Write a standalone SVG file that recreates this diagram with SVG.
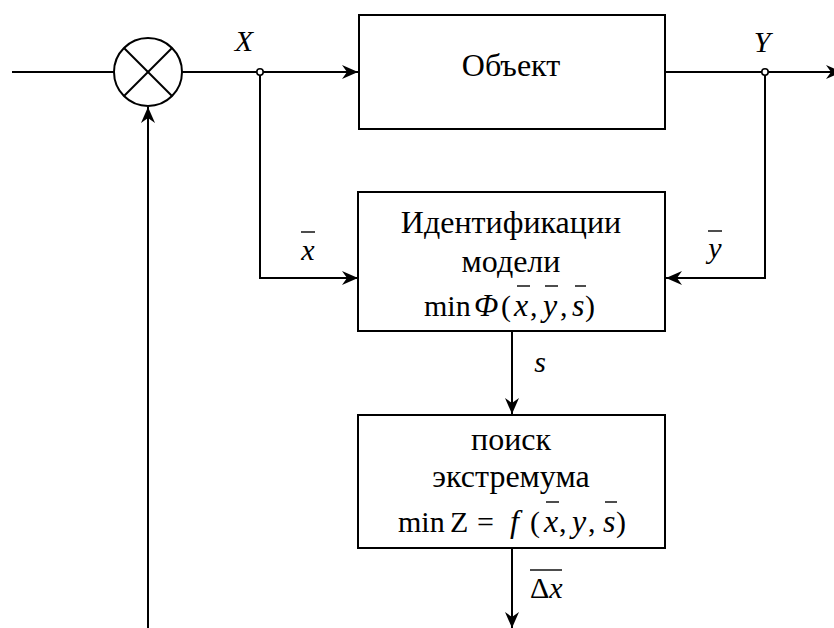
<svg xmlns="http://www.w3.org/2000/svg" width="834" height="628" viewBox="0 0 834 628" font-family="'Liberation Serif', 'DejaVu Serif', serif">
  <style>
    .ln { fill: none; stroke: #000; stroke-width: 2; }
    .box { fill: #fff; stroke: #000; stroke-width: 2; }
    .dot { fill: #fff; stroke: #000; stroke-width: 1.6; }
    .bar { stroke: #000; stroke-width: 1.4; }
    .t { font-family: 'Liberation Serif', 'DejaVu Serif', serif; font-size: 32px; fill: #000; }
    .f { font-family: 'Liberation Serif', 'DejaVu Serif', serif; font-size: 30px; fill: #000; }
    .c { text-anchor: middle; }
    .i { font-style: italic; }
    .v { font-style: italic; font-size: 32px; }
  </style>
  <defs>
    <marker id="arr" viewBox="-18 -8 20 16" markerWidth="20" markerHeight="16" refX="0" refY="0" orient="auto" markerUnits="userSpaceOnUse">
      <path d="M0,0 L-16,-7 L-11,0 L-16,7 Z" fill="#000"/>
    </marker>
  </defs>

  <!-- connectors -->
  <g id="connectors">
    <line class="ln" x1="12" y1="72" x2="114" y2="72"/>
    <line class="ln" x1="182" y1="72" x2="358" y2="72" marker-end="url(#arr)"/>
    <line class="ln" x1="665" y1="72" x2="842" y2="72" marker-end="url(#arr)"/>
    <polyline class="ln" points="260,72 260,278 358,278" marker-end="url(#arr)"/>
    <polyline class="ln" points="765,72 765,278 666,278" marker-end="url(#arr)"/>
    <line class="ln" x1="512" y1="331" x2="512" y2="414" marker-end="url(#arr)"/>
    <line class="ln" x1="512" y1="548" x2="512" y2="628" marker-end="url(#arr)"/>
    <line class="ln" x1="148" y1="628" x2="148" y2="107" marker-end="url(#arr)"/>
    <circle class="dot" cx="260" cy="72" r="3.2"/>
    <circle class="dot" cx="765" cy="72" r="3.2"/>
    <!-- signal labels -->
    <text class="f i c" x="244" y="51">X</text>
    <text class="f i c" x="762" y="52">Y</text>
    <text class="f i c" x="308" y="260">x</text>
    <line class="bar" x1="301" y1="232" x2="315" y2="232"/>
    <text class="f i c" x="715" y="258">y</text>
    <line class="bar" x1="708" y1="231" x2="722" y2="231"/>
    <text class="f i c" x="540" y="372">s</text>
    <text class="f" x="530" y="598">Δ<tspan class="i">x</tspan></text>
    <line class="bar" x1="530" y1="570" x2="562" y2="570"/>
  </g>

  <!-- summing junction -->
  <g id="sum">
    <circle class="ln" cx="148" cy="72" r="34"/>
    <line class="ln" x1="124" y1="48" x2="172" y2="96"/>
    <line class="ln" x1="172" y1="48" x2="124" y2="96"/>
  </g>

  <!-- plant -->
  <g id="object">
    <rect class="box" x="359" y="15" width="306" height="114"/>
    <text class="t c" x="511" y="76">Объект</text>
  </g>

  <!-- model identification -->
  <g id="identification">
    <rect class="box" x="358" y="192" width="307" height="139"/>
    <text class="t c" x="511" y="233">Идентификации</text>
    <text class="t c" x="511" y="272">модели</text>
    <text class="f" y="316"><tspan x="424">min</tspan><tspan class="v" x="474">Φ</tspan><tspan x="501">(</tspan><tspan class="v" x="514">x</tspan><tspan x="530">,</tspan><tspan class="v" x="543">y</tspan><tspan x="560">,</tspan><tspan class="v" x="572">s</tspan><tspan x="585">)</tspan></text>
    <line class="bar" x1="517" y1="286" x2="530" y2="286"/>
    <line class="bar" x1="545" y1="286" x2="558" y2="286"/>
    <line class="bar" x1="575" y1="286" x2="586" y2="286"/>
  </g>

  <!-- extremum search -->
  <g id="search">
    <rect class="box" x="358" y="415" width="307" height="133"/>
    <text class="t c" x="511" y="450">поиск</text>
    <text class="t c" x="511" y="487">экстремума</text>
    <text class="f" y="532"><tspan x="398">min</tspan><tspan x="450">Z</tspan><tspan x="477">=</tspan><tspan class="v" x="510">f</tspan><tspan x="530">(</tspan><tspan class="v" x="544">x</tspan><tspan x="559">,</tspan><tspan class="v" x="572">y</tspan><tspan x="588">,</tspan><tspan class="v" x="603">s</tspan><tspan x="616">)</tspan></text>
    <line class="bar" x1="546" y1="502" x2="559" y2="502"/>
    <line class="bar" x1="605" y1="502" x2="617" y2="502"/>
  </g>
</svg>
